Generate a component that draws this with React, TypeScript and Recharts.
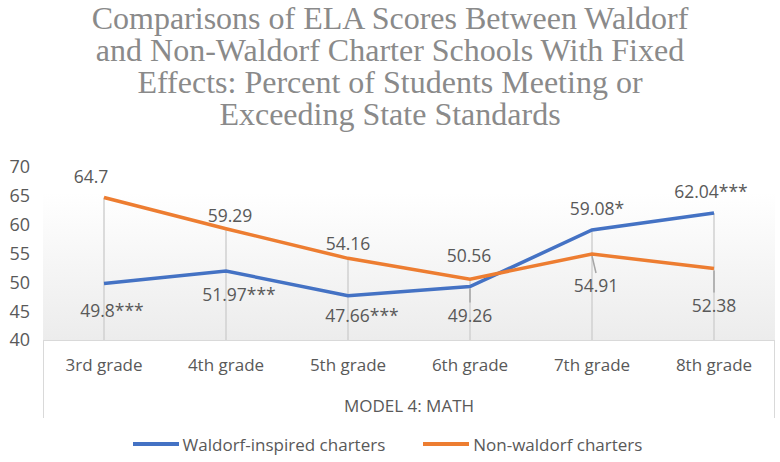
import React from "react";
import {
  LineChart,
  Line,
  XAxis,
  YAxis,
  CartesianGrid,
  Legend,
  LabelList,
  ReferenceLine,
} from "recharts";

const grades = ["3rd grade", "4th grade", "5th grade", "6th grade", "7th grade", "8th grade"];
const waldorf = [49.8, 51.97, 47.66, 49.26, 59.08, 62.04];
const waldorfText = ["49.8***", "51.97***", "47.66***", "49.26", "59.08*", "62.04***"];
const nonWaldorf = [64.7, 59.29, 54.16, 50.56, 54.91, 52.38];
const nonWaldorfText = ["64.7", "59.29", "54.16", "50.56", "54.91", "52.38"];
const yTicks = [40, 45, 50, 55, 60, 65, 70];

const titleLines = [
  "Comparisons of ELA Scores Between Waldorf",
  "and Non-Waldorf Charter Schools With Fixed",
  "Effects: Percent of Students Meeting or",
  "Exceeding State Standards",
];

// label placement, hand tuned like the original's dragged labels
const waldorfDx = [8, 13, 14, 0, 5, -3];
const waldorfDy = [27, 23, 19, 28, -22, -22];
const nonDx = [-13, 4, 0, -1, 4, 0];
const nonDy = [-22, -14, -15, -24, 31, 36];

const BLUE = "#4472C4";
const ORANGE = "#ED7D31";
const TEXT = "#595959";
const FONT = "'Open Sans', sans-serif";

const data = grades.map((g, i) => ({
  grade: g,
  waldorf: waldorf[i],
  nonWaldorf: nonWaldorf[i],
}));

const makeLabel = (texts: string[], dxs: number[], dys: number[]) => (props: any) => {
  const { x, y, index } = props;
  const dx = dxs[index];
  const dy = dys[index];
  return (
    <g>
      {dy >= 28 && (
        <line x1={x} y1={y + 2} x2={x + dx} y2={y + dy - 12} stroke="#a6a6a6" strokeWidth={1.5} />
      )}
      <text
        x={x + dx}
        y={y + dy}
        textAnchor="middle"
        dominantBaseline="central"
        fill={TEXT}
        fontSize={17.5}
        fontFamily={FONT}
      >
        {texts[index]}
      </text>
    </g>
  );
};

const LegendBox = () => (
  <div
    style={{
      height: 44,
      display: "flex",
      justifyContent: "center",
      alignItems: "center",
      paddingTop: 8,
      boxSizing: "border-box",
      fontFamily: FONT,
      fontSize: 17,
      color: TEXT,
    }}
  >
    {[
      { name: "Waldorf-inspired charters", color: BLUE },
      { name: "Non-waldorf charters", color: ORANGE },
    ].map((item, i) => (
      <div key={i} style={{ display: "flex", alignItems: "center", marginLeft: i ? 38 : 0 }}>
        <span style={{ display: "inline-block", width: 46, height: 4, background: item.color, marginRight: 4 }} />
        <span>{item.name}</span>
      </div>
    ))}
  </div>
);

const App: React.FC = () => {
  return (
    <div style={{ position: "absolute", left: 0, top: 0, width: 780, height: 462, background: "#fff" }}>
      <div
        style={{
          position: "absolute",
          top: 2,
          left: 0,
          width: 780,
          textAlign: "center",
          fontFamily: "'Liberation Serif', serif",
          fontSize: 32,
          lineHeight: "32px",
          color: "#8a8a8a",
          whiteSpace: "nowrap",
        }}
      >
        {titleLines.map((t) => (
          <div key={t}>{t}</div>
        ))}
      </div>
      <div
        style={{
          position: "absolute",
          left: 43,
          top: 340,
          width: 732,
          height: 78,
          borderTop: "1.5px solid #d9d9d9",
          borderLeft: "1.5px solid #d9d9d9",
          borderRight: "1.5px solid #d9d9d9",
          boxSizing: "border-box",
        }}
      />
      <LineChart
        width={780}
        height={462}
        data={data}
        margin={{ top: 167, right: 5, left: 0, bottom: 0 }}
        style={{ position: "absolute", left: 0, top: 0 }}
      >
        <defs>
          <linearGradient id="plotBg" x1="0" y1="0" x2="0" y2="1">
            <stop offset="0%" stopColor="#ffffff" />
            <stop offset="15%" stopColor="#ffffff" />
            <stop offset="100%" stopColor="#ececec" />
          </linearGradient>
        </defs>
        <CartesianGrid horizontal={false} vertical={false} fill="url(#plotBg)" />
        <XAxis
          dataKey="grade"
          height={78}
          padding={{ left: 61, right: 61 }}
          axisLine={false}
          tickLine={false}
          tickMargin={13}
          tick={{ fill: TEXT, fontSize: 17, fontFamily: FONT }}
          label={{
            value: "MODEL 4: MATH",
            position: "insideBottom",
            offset: 6,
            fill: TEXT,
            fontSize: 17,
            fontFamily: FONT,
          }}
        />
        <YAxis
          width={43}
          domain={[40, 70]}
          ticks={yTicks}
          axisLine={false}
          tickLine={false}
          tickMargin={7}
          tick={{ fill: TEXT, fontSize: 18, fontFamily: FONT }}
        />
        {grades.map((g, i) => (
          <ReferenceLine
            key={g}
            segment={[
              { x: g, y: 40 },
              { x: g, y: Math.max(waldorf[i], nonWaldorf[i]) },
            ]}
            stroke="#d0d0d0"
            strokeWidth={1.5}
          />
        ))}
        <Line
          type="linear"
          dataKey="waldorf"
          stroke={BLUE}
          strokeWidth={3.5}
          dot={false}
          activeDot={false}
          isAnimationActive={false}
        >
          <LabelList dataKey="waldorf" content={makeLabel(waldorfText, waldorfDx, waldorfDy)} />
        </Line>
        <Line
          type="linear"
          dataKey="nonWaldorf"
          stroke={ORANGE}
          strokeWidth={3.5}
          dot={false}
          activeDot={false}
          isAnimationActive={false}
        >
          <LabelList dataKey="nonWaldorf" content={makeLabel(nonWaldorfText, nonDx, nonDy)} />
        </Line>
        <Legend verticalAlign="bottom" content={<LegendBox />} />
      </LineChart>
    </div>
  );
};

export default App;
